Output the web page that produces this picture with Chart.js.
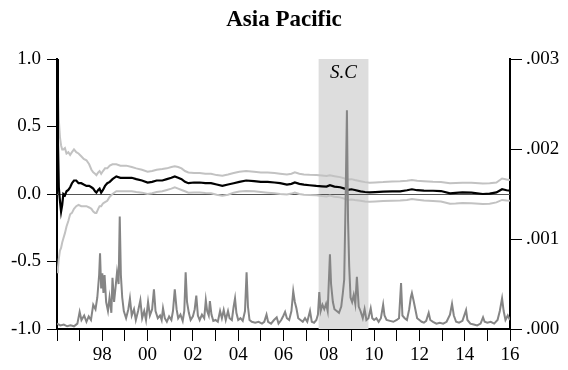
<!DOCTYPE html>
<html>
<head>
<meta charset="utf-8">
<script src="https://cdn.jsdelivr.net/npm/chart.js@4"></script>
<style>
  body { margin: 0; background: #fff; }
</style>
</head>
<body>
<canvas id="chartCanvas" width="568" height="370"></canvas>
<script>
// coefficient + confidence band (left axis)
const coefDates = [1996.00, 1996.04, 1996.08, 1996.13, 1996.18, 1996.23, 1996.28, 1996.35, 1996.42, 1996.50,
  1996.58, 1996.66, 1996.75, 1996.85, 1996.95, 1997.07, 1997.18, 1997.30, 1997.42, 1997.52,
  1997.60, 1997.68, 1997.74, 1997.82, 1997.88, 1997.95, 1998.03, 1998.12, 1998.22, 1998.33,
  1998.45, 1998.62, 1998.80, 1999.06, 1999.30, 1999.50, 1999.75, 2000.00, 2000.20, 2000.40,
  2000.65, 2000.85, 2001.05, 2001.20, 2001.35, 2001.50, 2001.65, 2001.80, 2002.05, 2002.30,
  2002.55, 2002.80, 2003.05, 2003.30, 2003.55, 2003.80, 2004.05, 2004.35, 2004.70, 2005.00,
  2005.30, 2005.60, 2005.85, 2006.15, 2006.35, 2006.50, 2006.70, 2006.90, 2007.15, 2007.45,
  2007.70, 2007.90, 2008.05, 2008.25, 2008.50, 2008.70, 2008.85, 2009.00, 2009.15, 2009.40,
  2009.60, 2009.80, 2010.05, 2010.40, 2010.80, 2011.15, 2011.45, 2011.67, 2011.90, 2012.20,
  2012.60, 2012.95, 2013.35, 2013.60, 2013.90, 2014.30, 2014.80, 2015.10, 2015.40, 2015.65,
  2015.85, 2016.00];
const coefValues = [1.00, 0.40, 0.05, -0.05, -0.13, -0.08, 0.00, -0.01, 0.02, 0.03,
  0.05, 0.08, 0.10, 0.10, 0.08, 0.08, 0.07, 0.06, 0.06, 0.05,
  0.04, 0.02, 0.01, 0.03, 0.04, 0.01, 0.03, 0.06, 0.08, 0.09,
  0.11, 0.13, 0.12, 0.12, 0.12, 0.11, 0.10, 0.085, 0.09, 0.10,
  0.10, 0.11, 0.12, 0.13, 0.12, 0.11, 0.09, 0.08, 0.085, 0.085,
  0.08, 0.08, 0.07, 0.06, 0.07, 0.08, 0.09, 0.10, 0.095, 0.09,
  0.09, 0.085, 0.08, 0.07, 0.075, 0.085, 0.075, 0.07, 0.065, 0.06,
  0.057, 0.055, 0.065, 0.055, 0.05, 0.04, 0.03, 0.035, 0.03, 0.02,
  0.015, 0.012, 0.014, 0.017, 0.02, 0.02, 0.028, 0.035, 0.028, 0.025,
  0.024, 0.022, 0.005, 0.008, 0.012, 0.01, 0.0, 0.003, 0.012, 0.035,
  0.028, 0.025];
const upperValues = [0.95, 0.75, 0.55, 0.42, 0.36, 0.33, 0.33, 0.34, 0.30, 0.31,
  0.29, 0.31, 0.33, 0.31, 0.30, 0.28, 0.26, 0.25, 0.22, 0.18,
  0.16, 0.15, 0.14, 0.16, 0.17, 0.15, 0.17, 0.19, 0.19, 0.21,
  0.22, 0.22, 0.21, 0.21, 0.20, 0.19, 0.18, 0.165, 0.17, 0.18,
  0.185, 0.19, 0.20, 0.205, 0.20, 0.19, 0.17, 0.16, 0.155, 0.155,
  0.15, 0.15, 0.14, 0.136, 0.145, 0.155, 0.165, 0.17, 0.165, 0.16,
  0.16, 0.155, 0.15, 0.145, 0.15, 0.16, 0.15, 0.145, 0.142, 0.14,
  0.137, 0.133, 0.138, 0.132, 0.125, 0.115, 0.108, 0.11, 0.104, 0.095,
  0.088, 0.084, 0.086, 0.088, 0.092, 0.094, 0.098, 0.104, 0.098, 0.094,
  0.09, 0.088, 0.08, 0.082, 0.084, 0.083, 0.078, 0.08, 0.085, 0.115,
  0.108, 0.104];
const lowerValues = [-0.58, -0.55, -0.48, -0.42, -0.40, -0.36, -0.33, -0.29, -0.24, -0.20,
  -0.15, -0.14, -0.11, -0.09, -0.08, -0.09, -0.09, -0.09, -0.10, -0.11,
  -0.13, -0.14, -0.14, -0.11, -0.09, -0.09, -0.07, -0.06, -0.05, -0.02,
  0.00, 0.02, 0.02, 0.02, 0.02, 0.015, 0.01, 0.00, 0.005, 0.015,
  0.02, 0.03, 0.04, 0.05, 0.04, 0.03, 0.02, 0.01, 0.012, 0.012,
  0.008, 0.005, -0.005, -0.012, -0.005, 0.01, 0.018, 0.022, 0.02, 0.015,
  0.01, 0.005, 0.0, -0.003, 0.003, 0.01, 0.0, -0.005, -0.007, -0.01,
  -0.015, -0.018, -0.012, -0.02, -0.025, -0.035, -0.045, -0.04, -0.045, -0.05,
  -0.055, -0.057, -0.055, -0.052, -0.05, -0.048, -0.044, -0.038, -0.042, -0.048,
  -0.052, -0.055, -0.072, -0.07, -0.066, -0.068, -0.074, -0.072, -0.062, -0.044,
  -0.048, -0.05];

// volatility (right axis)
const volDates = [1996.00, 1996.15, 1996.30, 1996.45, 1996.60, 1996.75, 1996.90, 1997.00, 1997.08, 1997.20,
  1997.30, 1997.40, 1997.50, 1997.60, 1997.70, 1997.78, 1997.86, 1997.90, 1997.95, 1998.00,
  1998.05, 1998.10, 1998.17, 1998.25, 1998.32, 1998.40, 1998.45, 1998.52, 1998.58, 1998.65,
  1998.72, 1998.77, 1998.82, 1998.88, 1998.95, 1999.05, 1999.15, 1999.22, 1999.30, 1999.40,
  1999.48, 1999.58, 1999.68, 1999.76, 1999.85, 1999.93, 2000.02, 2000.10, 2000.20, 2000.28,
  2000.35, 2000.45, 2000.55, 2000.62, 2000.68, 2000.76, 2000.85, 2000.95, 2001.05, 2001.12,
  2001.20, 2001.28, 2001.35, 2001.45, 2001.55, 2001.62, 2001.68, 2001.74, 2001.82, 2001.90,
  2002.00, 2002.08, 2002.15, 2002.22, 2002.30, 2002.40, 2002.50, 2002.57, 2002.63, 2002.70,
  2002.75, 2002.82, 2002.90, 2003.00, 2003.10, 2003.20, 2003.28, 2003.36, 2003.45, 2003.55,
  2003.62, 2003.72, 2003.80, 2003.86, 2003.92, 2004.00, 2004.10, 2004.20, 2004.30, 2004.37,
  2004.43, 2004.50, 2004.60, 2004.75, 2004.90, 2005.05, 2005.15, 2005.25, 2005.32, 2005.45,
  2005.58, 2005.70, 2005.78, 2005.90, 2006.00, 2006.07, 2006.15, 2006.25, 2006.35, 2006.43,
  2006.50, 2006.57, 2006.65, 2006.75, 2006.85, 2006.95, 2007.05, 2007.17, 2007.25, 2007.35,
  2007.45, 2007.52, 2007.58, 2007.64, 2007.72, 2007.80, 2007.88, 2007.95, 2008.05, 2008.10,
  2008.18, 2008.25, 2008.35, 2008.45, 2008.55, 2008.62, 2008.68, 2008.74, 2008.80, 2008.85,
  2008.90, 2008.96, 2009.03, 2009.10, 2009.17, 2009.24, 2009.32, 2009.40, 2009.50, 2009.58,
  2009.66, 2009.75, 2009.85, 2009.92, 2010.00, 2010.10, 2010.20, 2010.30, 2010.40, 2010.46,
  2010.55, 2010.70, 2010.85, 2011.00, 2011.10, 2011.19, 2011.25, 2011.35, 2011.45, 2011.55,
  2011.62, 2011.67, 2011.74, 2011.82, 2011.90, 2012.00, 2012.10, 2012.20, 2012.30, 2012.41,
  2012.48, 2012.60, 2012.75, 2012.90, 2013.05, 2013.20, 2013.35, 2013.44, 2013.52, 2013.62,
  2013.75, 2013.90, 2014.06, 2014.12, 2014.25, 2014.40, 2014.55, 2014.70, 2014.81, 2014.88,
  2015.00, 2015.15, 2015.30, 2015.45, 2015.55, 2015.65, 2015.72, 2015.80, 2015.90, 2016.00];
const volValues = [0.00006, 0.00004, 0.00005, 0.00003, 0.00004, 0.00003, 0.00006, 0.00019, 0.00010, 0.00015,
  0.00008, 0.00014, 0.00010, 0.00027, 0.00022, 0.00035, 0.00060, 0.00084, 0.00045, 0.00062,
  0.00040, 0.00060, 0.00030, 0.00020, 0.00035, 0.00018, 0.00057, 0.00030, 0.00045, 0.00063,
  0.00050, 0.00125, 0.00060, 0.00035, 0.00020, 0.00012, 0.00022, 0.00034, 0.00015, 0.00022,
  0.00010, 0.00020, 0.00032, 0.00012, 0.00020, 0.00010, 0.00030, 0.00015, 0.00022, 0.00044,
  0.00020, 0.00012, 0.00015, 0.00010, 0.00023, 0.00012, 0.00008, 0.00014, 0.00010, 0.00020,
  0.00044, 0.00022, 0.00012, 0.00016, 0.00009, 0.00020, 0.00063, 0.00030, 0.00018, 0.00010,
  0.00014, 0.00022, 0.00037, 0.00015, 0.00010, 0.00016, 0.00012, 0.00032, 0.00020, 0.00015,
  0.00031, 0.00016, 0.00009, 0.00010, 0.00008, 0.00020, 0.00012, 0.00021, 0.00010, 0.00020,
  0.00012, 0.00010, 0.00025, 0.00034, 0.00018, 0.00010, 0.00012, 0.00009, 0.00020, 0.00063,
  0.00025, 0.00010, 0.00008, 0.00007, 0.00008, 0.00006, 0.00008, 0.00016, 0.00008, 0.00006,
  0.00010, 0.00013, 0.00006, 0.00010, 0.00015, 0.00019, 0.00012, 0.00010, 0.00020, 0.00042,
  0.00030, 0.00023, 0.00012, 0.00010, 0.00008, 0.00012, 0.00008, 0.00020, 0.00008, 0.00007,
  0.00010, 0.00016, 0.00041, 0.00020, 0.00027, 0.00022, 0.00028, 0.00020, 0.00083, 0.00050,
  0.00030, 0.00022, 0.00020, 0.00018, 0.00025, 0.00040, 0.00055, 0.00140, 0.00243, 0.00120,
  0.00070, 0.00035, 0.00030, 0.00038, 0.00028, 0.00058, 0.00025, 0.00020, 0.00012, 0.00022,
  0.00010, 0.00012, 0.00023, 0.00012, 0.00010, 0.00012, 0.00008, 0.00012, 0.00027, 0.00015,
  0.00010, 0.00009, 0.00008, 0.00010, 0.00012, 0.00051, 0.00015, 0.00012, 0.00010, 0.00022,
  0.00035, 0.00040, 0.00032, 0.00022, 0.00012, 0.00010, 0.00008, 0.00007, 0.00009, 0.00018,
  0.00010, 0.00008, 0.00006, 0.00007, 0.00006, 0.00008, 0.00016, 0.00028, 0.00015, 0.00008,
  0.00007, 0.00009, 0.00021, 0.00010, 0.00006, 0.00005, 0.00004, 0.00006, 0.00013, 0.00008,
  0.00007, 0.00008, 0.00006, 0.00010, 0.00020, 0.00034, 0.00020, 0.00010, 0.00015, 0.00010];

// shaded period (S.C)
const scStart = 2007.55;
const scEnd = 2009.75;
const scLabel = 'S.C';

const serif = '"Liberation Serif", "Times New Roman", serif';

function toPoints(xs, ys) {
  return xs.map((x, i) => ({ x: x, y: ys[i] }));
}

const backdrop = {
  id: 'backdrop',
  beforeDatasetsDraw(chart) {
    const c = chart.ctx;
    const area = chart.chartArea;
    const x = chart.scales.x;
    const y = chart.scales.y;
    const x0 = x.getPixelForValue(scStart);
    const x1 = x.getPixelForValue(scEnd);
    c.save();
    c.fillStyle = '#dddddd';
    c.fillRect(x0, area.top, x1 - x0, area.bottom - area.top);
    c.fillStyle = '#000';
    c.font = 'italic 19px ' + serif;
    c.textAlign = 'center';
    c.textBaseline = 'middle';
    c.fillText(scLabel, (x0 + x1) / 2, area.top + 14);
    // zero line
    const yz = Math.round(y.getPixelForValue(0)) + 0.5;
    c.strokeStyle = '#555';
    c.lineWidth = 1;
    c.beginPath();
    c.moveTo(area.left, yz);
    c.lineTo(area.right, yz);
    c.stroke();
    c.restore();
  }
};

const ctx = document.getElementById('chartCanvas').getContext('2d');
const chart = new Chart(ctx, {
  type: 'line',
  data: {
    datasets: [
      {
        label: 'Volatility',
        data: toPoints(volDates, volValues),
        yAxisID: 'y1',
        borderColor: '#858585',
        borderWidth: 2,
        order: 0
      },
      {
        label: 'Coefficient',
        data: toPoints(coefDates, coefValues),
        yAxisID: 'y',
        borderColor: '#000000',
        borderWidth: 2.2,
        order: 1
      },
      {
        label: 'Upper',
        data: toPoints(coefDates, upperValues),
        yAxisID: 'y',
        borderColor: '#c2c2c2',
        borderWidth: 2,
        order: 2
      },
      {
        label: 'Lower',
        data: toPoints(coefDates, lowerValues),
        yAxisID: 'y',
        borderColor: '#c2c2c2',
        borderWidth: 2,
        order: 2
      }
    ]
  },
  options: {
    responsive: false,
    animation: false,
    devicePixelRatio: 1,
    elements: { point: { radius: 0 }, line: { tension: 0 } },
    layout: { padding: 0 },
    plugins: {
      legend: { display: false },
      tooltip: { enabled: false },
      title: {
        display: true,
        text: 'Asia Pacific',
        color: '#000',
        font: { family: serif, size: 23, weight: 'bold', lineHeight: 1.2 },
        padding: { top: 6, bottom: 25.4 }
      }
    },
    scales: {
      x: {
        type: 'linear',
        min: 1996,
        max: 2016,
        border: { display: true, color: '#000', width: 2 },
        grid: { drawOnChartArea: false, drawTicks: true, tickLength: 12, color: '#000', lineWidth: 1 },
        ticks: {
          stepSize: 1,
          autoSkip: false,
          maxRotation: 0,
          padding: 3,
          color: '#000',
          font: { family: serif, size: 19 },
          callback: function (v) {
            const yr = Math.round(v);
            if (yr % 2 !== 0 || yr === 1996) return '';
            return String(yr % 100).padStart(2, '0');
          }
        },
        afterFit: function (scale) { scale.height = 41; }
      },
      y: {
        position: 'left',
        min: -1,
        max: 1,
        border: { display: true, color: '#000', width: 2 },
        grid: { drawOnChartArea: false, drawTicks: true, tickLength: 10, color: '#000', lineWidth: 1 },
        ticks: {
          stepSize: 0.5,
          padding: 6,
          color: '#000',
          font: { family: serif, size: 19 },
          callback: function (v) { return (Math.abs(v) < 1e-9 ? 0 : v).toFixed(1); }
        },
        afterFit: function (scale) { scale.width = 57; }
      },
      y1: {
        position: 'right',
        min: 0,
        max: 0.003,
        border: { display: true, color: '#000', width: 2 },
        grid: { drawOnChartArea: false, drawTicks: true, tickLength: 12, color: '#000', lineWidth: 1 },
        ticks: {
          stepSize: 0.001,
          padding: 4,
          color: '#000',
          font: { family: serif, size: 19 },
          callback: function (v) { return '.' + String(Math.round(v * 1000)).padStart(3, '0'); }
        },
        afterFit: function (scale) { scale.width = 58; }
      }
    }
  },
  plugins: [backdrop]
});
</script>
</body>
</html>
